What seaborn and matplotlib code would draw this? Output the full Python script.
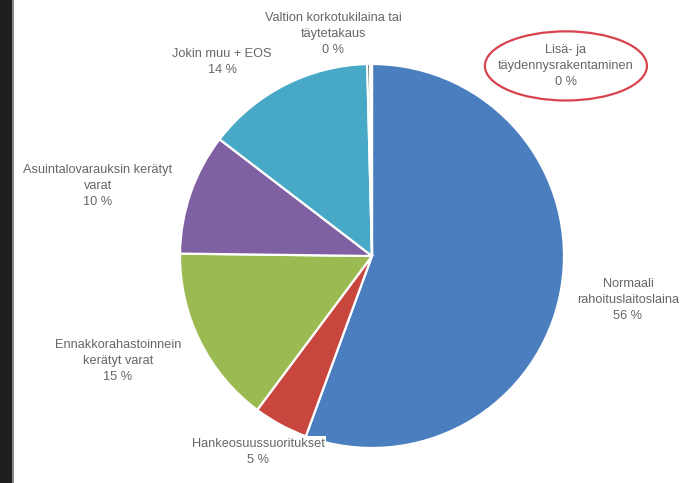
import matplotlib
matplotlib.use("Agg")
import matplotlib.pyplot as plt
from matplotlib.patches import Ellipse, Rectangle
import seaborn as sns

sns.set_theme(style="white")
plt.rcParams["font.family"] = ["Liberation Sans", "DejaVu Sans"]

# Rahoituslähteet (osuus, %)
categories = [
    "Normaali\nrahoituslaitoslaina",
    "Hankeosuussuoritukset",
    "Ennakkorahastoinnein\nkerätyt varat",
    "Asuintalovarauksin kerätyt\nvarat",
    "Jokin muu + EOS",
    "Valtion korkotukilaina tai\ntäytetakaus",
    "Lisä- ja\ntäydennysrakentaminen",
]
values = [55.6, 4.6, 15.0, 10.2, 14.2, 0.25, 0.15]
colors = ["#4a7ebf", "#c8463d", "#9bbb52", "#7f60a3", "#48a9c7", "#3c3c3c", "#f3f3f3"]

# label anchor points in pie data units (pie radius = 1)
label_pos = [
    (1.333, -0.229),
    (-0.594, -1.021),
    (-1.323, -0.547),
    (-1.427, 0.365),
    (-0.781, 1.010),
    (-0.203, 1.156),
    (1.010, 0.990),
]

W, H = 686, 483
fig = plt.figure(figsize=(W / 100, H / 100), dpi=100)
fig.patch.set_facecolor("white")

# dark strip along the left edge
fig.patches.append(Rectangle((0, 0), 12 / W, 1, transform=fig.transFigure,
                             facecolor="#1f1f1f", edgecolor="none", zorder=0))
fig.patches.append(Rectangle((12 / W, 0), 1.5 / W, 1, transform=fig.transFigure,
                             facecolor="#8a8a8a", edgecolor="none", zorder=0))

cx, cy, r = 372, 256, 192
ax = fig.add_axes([(cx - r) / W, (H - cy - r) / H, 2 * r / W, 2 * r / H])
ax.pie(values, colors=colors, startangle=90, counterclock=False,
       radius=1.0, wedgeprops=dict(edgecolor="white", linewidth=1.6))
ax.set_xlim(-1, 1)
ax.set_ylim(-1, 1)
ax.set_aspect("equal")
ax.axis("off")

total = sum(values)
for name, v, (lx, ly) in zip(categories, values, label_pos):
    txt = f"{name}\n{round(v / total * 100):.0f} %"
    kw = {}
    if name == "Hankeosuussuoritukset":
        kw["bbox"] = dict(facecolor="white", edgecolor="none", pad=1.5)
    ax.text(lx, ly, txt, ha="center", va="center", fontsize=9.2,
            color="#666666", linespacing=1.42, clip_on=False, zorder=5, **kw)

# highlight ring around the last category
ax.add_patch(Ellipse((1.010, 0.990), 0.844, 0.36, facecolor="none",
                     edgecolor="#d8434e", linewidth=1.6, clip_on=False, zorder=6))

fig.savefig("out.png", dpi=100, facecolor="white")
